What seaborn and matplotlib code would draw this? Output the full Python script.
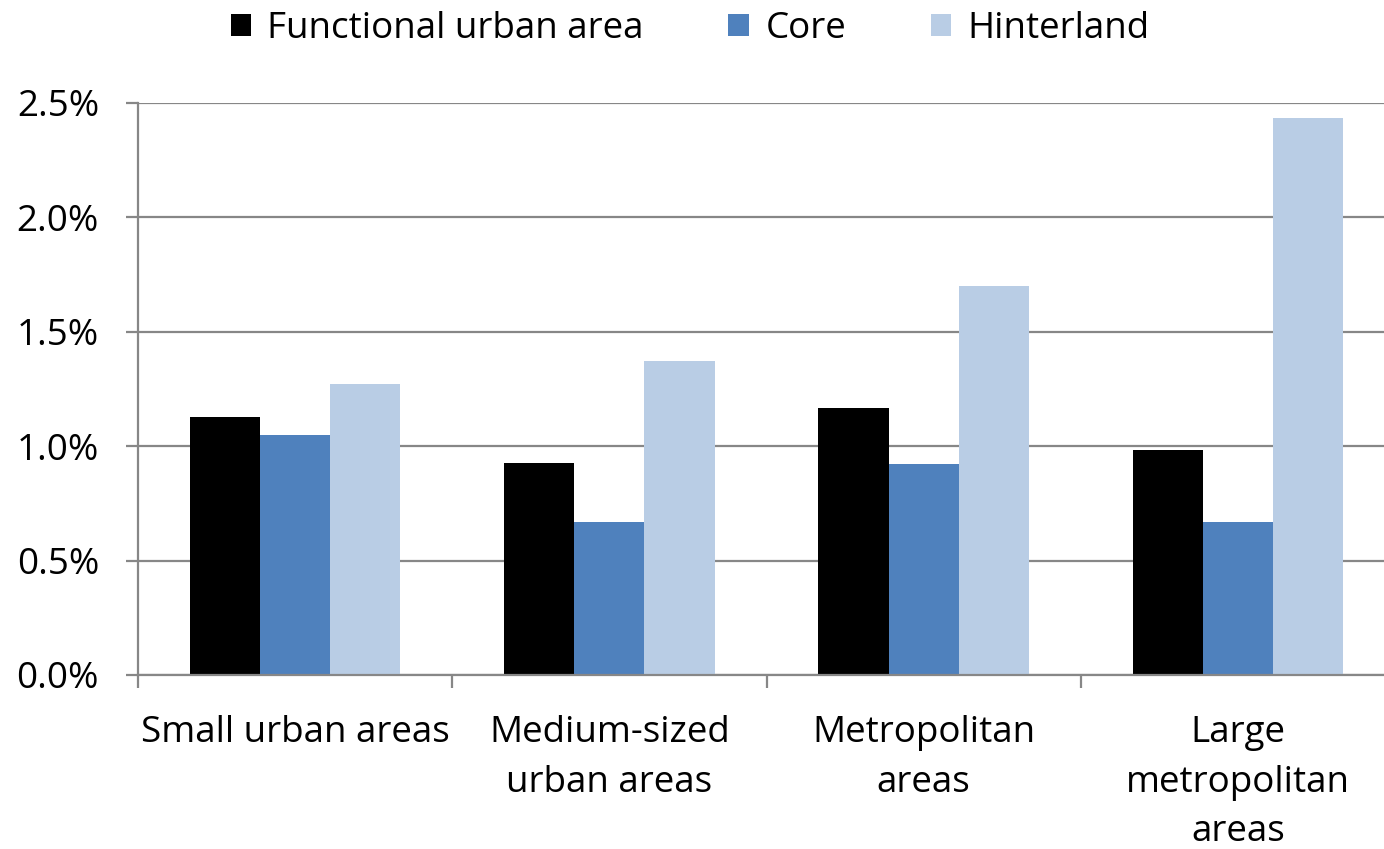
import matplotlib
matplotlib.use("Agg")
import matplotlib.pyplot as plt
import seaborn as sns
import pandas as pd
import numpy as np
from matplotlib.ticker import FuncFormatter, FixedLocator

categories = ["Small urban areas", "Medium-sized\nurban areas", "Metropolitan\nareas", "Large\nmetropolitan\nareas"]
series = ["Functional urban area", "Core", "Hinterland"]
fua = [1.128, 0.927, 1.167, 0.983]
core = [1.049, 0.669, 0.922, 0.669]
hinterland = [1.272, 1.372, 1.700, 2.434]
colors = ["#000000", "#4F81BD", "#B9CDE5"]
yticks = [0.0, 0.5, 1.0, 1.5, 2.0, 2.5]

rows = []
for s, vals in zip(series, [fua, core, hinterland]):
    for c, v in zip(categories, vals):
        rows.append({"category": c, "series": s, "value": v})
df = pd.DataFrame(rows)

sns.set_style("white")
plt.rcParams["font.family"] = ["Open Sans", "DejaVu Sans"]
plt.rcParams["text.color"] = "black"
plt.rcParams["xtick.color"] = "black"
plt.rcParams["ytick.color"] = "black"

fig = plt.figure(figsize=(13.84, 8.49), dpi=100)
ax = fig.add_axes([138/1384, (849-675)/849, (1395-138)/1384, 572/849])

sns.barplot(data=df, x="category", y="value", hue="series", order=categories,
            hue_order=series, palette=colors, width=0.67, ax=ax, saturation=1,
            edgecolor="none", linewidth=0)

grid_c = "#878787"
ax.set_ylim(0, 2.5)
ax.set_xlim(-0.5, 3.5)
ax.set_yticks(yticks)
ax.yaxis.set_major_formatter(FuncFormatter(lambda v, p: f"{v:.1f}%"))
ax.grid(axis="y", color=grid_c, linewidth=1.6)
ax.set_axisbelow(True)
for s in ["top", "right"]:
    ax.spines[s].set_visible(False)
for s in ["left", "bottom"]:
    ax.spines[s].set_color(grid_c)
    ax.spines[s].set_linewidth(1.6)

ax.tick_params(axis="y", which="major", length=9, width=1.6, color=grid_c,
               labelsize=26.5, pad=19, left=True, labelcolor="black")
ax.tick_params(axis="x", which="major", length=0, labelsize=26.5, pad=29, labelcolor="black")
ax.xaxis.set_minor_locator(FixedLocator([-0.5, 0.5, 1.5, 2.5, 3.5]))
ax.tick_params(axis="x", which="minor", length=9.5, width=1.6, color=grid_c, bottom=True)
for lbl in ax.get_xticklabels():
    lbl.set_linespacing(1.5)
    lbl.set_verticalalignment("top")
ax.set_xlabel("")
ax.set_ylabel("")

handles, labels = ax.get_legend_handles_labels()
if ax.get_legend() is not None:
    ax.get_legend().remove()
fig.legend(handles, labels, loc="center", bbox_to_anchor=(0.4986, 1 - 29/849),
           ncol=3, frameon=False, fontsize=26.5, handlelength=0.55, handleheight=0.55,
           handletextpad=0.45, columnspacing=2.3, labelcolor="black")

fig.savefig("out.png", dpi=100)
